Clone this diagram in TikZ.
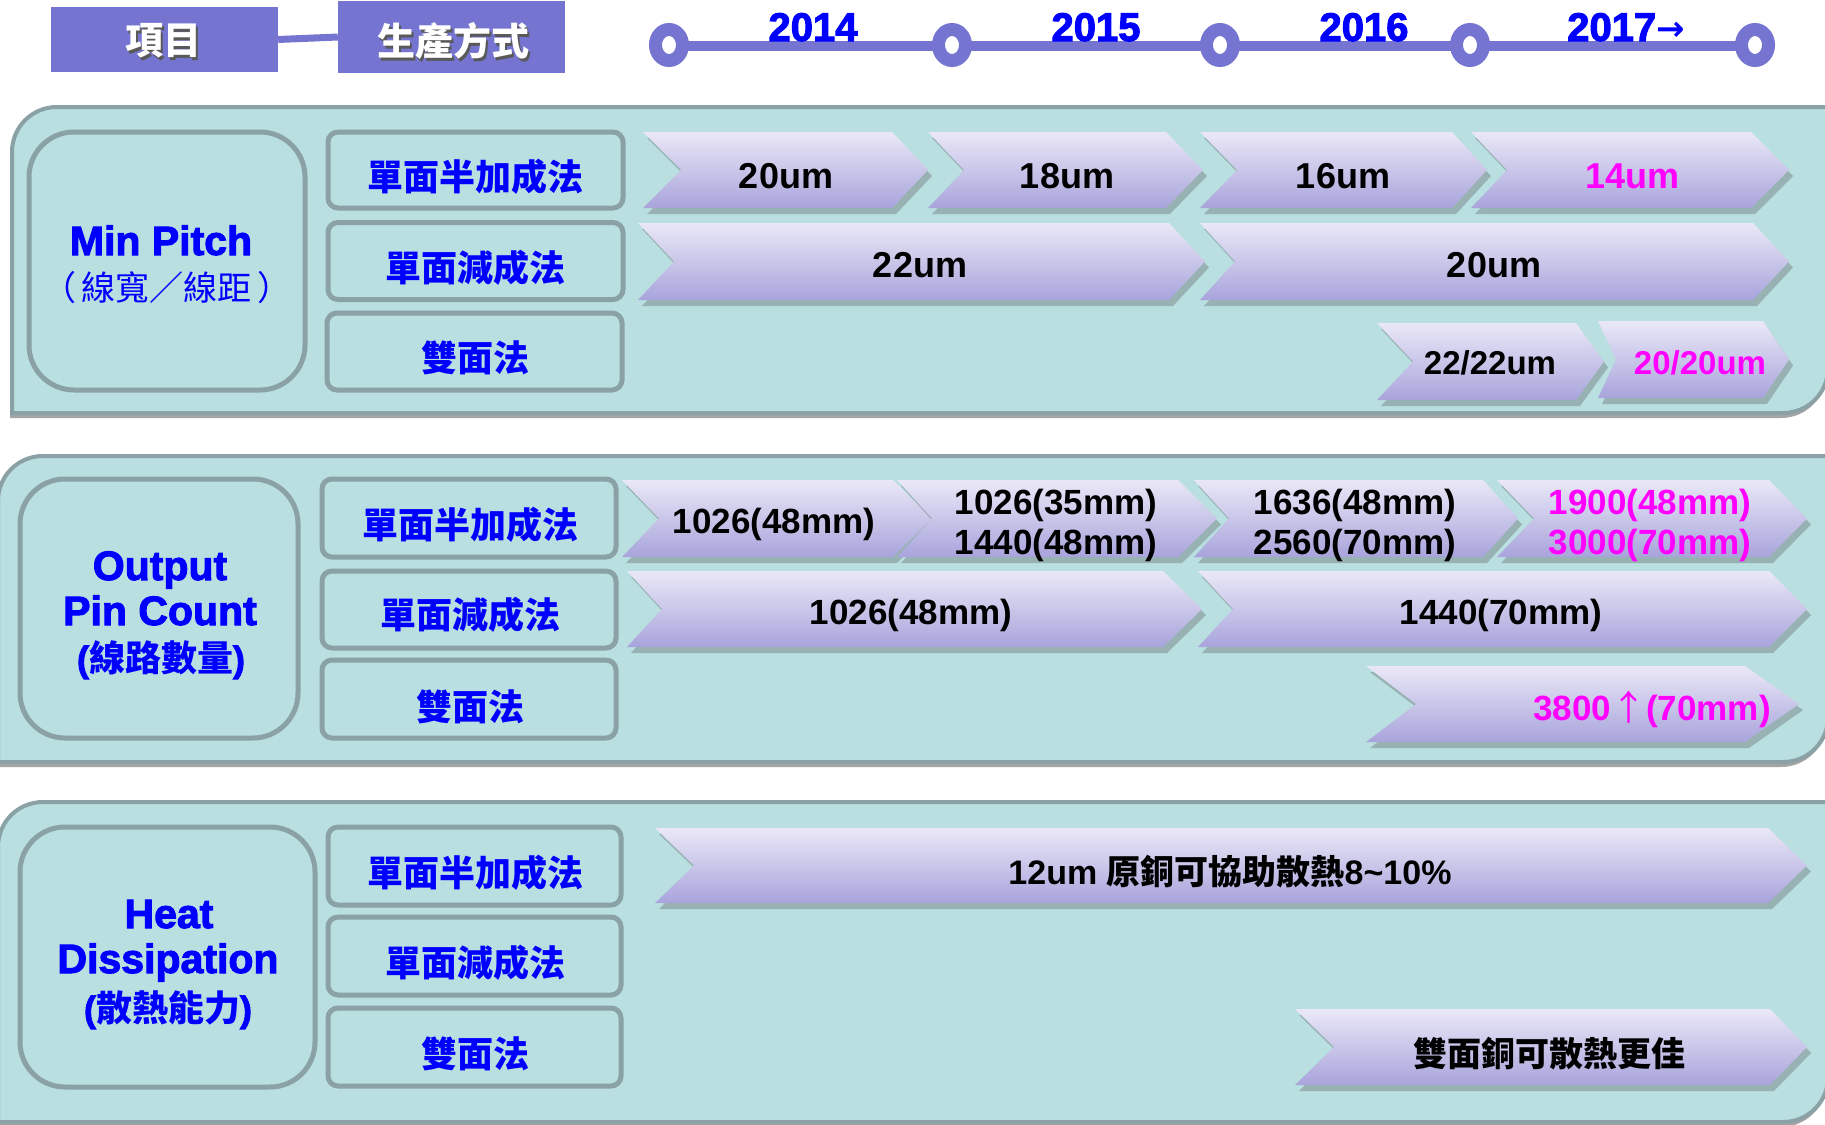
\documentclass[tikz,border=0pt]{standalone}
\usepackage{fontspec}
\setmainfont{Liberation Sans}
\newfontfamily\cjk{Noto Sans CJK TC}
\newfontfamily\heavy{Liberation Sans}[UprightFont={* Bold}, FakeBold=2.5]
\newfontfamily\dvs{DejaVu Sans}
\usetikzlibrary{shadows,shapes.geometric}
\definecolor{hdrc}{RGB}{117,116,208}
\definecolor{pfill}{RGB}{185,223,224}
\definecolor{pbord}{RGB}{138,161,165}
\definecolor{chtop}{RGB}{234,232,247}
\definecolor{chbot}{RGB}{168,164,220}
\definecolor{yrblue}{RGB}{0,0,255}
\definecolor{mag}{RGB}{255,0,255}
\newcommand\fs[1]{\fontsize{#1}{#1}\selectfont}
% panel: left, top, right, bottom
\newcommand\mypanel[4]{%
  \path[panelsty] (#1,#4) -- (#1,#2+45) .. controls (#1,#2+20) and (#1+20,#2) .. (#1+45,#2)
    -- (#3,#2) -- (#3,#4-45) .. controls (#3,#4-20) and (#3-20,#4) .. (#3-45,#4) -- cycle;}
% chevron: x0, notch depth, x tip, tip depth, ytop, ybot
\newcommand\mychev[6]{%
  \path[chevsty] (#1,#5) -- (#3-#4,#5) -- (#3,{(#5+#6)/2}) -- (#3-#4,#6) -- (#1,#6)
    -- (#1+#2,{(#5+#6)/2}) -- cycle;}
\begin{document}
\begin{tikzpicture}[x=1pt,y=-1pt,
  panelsty/.style={fill=pfill, draw=pbord, line width=4pt,
    drop shadow={shadow xshift=-2pt, shadow yshift=-5pt, opacity=0.5, fill=black!70}},
  chevsty/.style={top color=chtop, bottom color=chbot, draw=none,
    drop shadow={shadow xshift=4pt, shadow yshift=-6pt, opacity=0.3, fill=black!70}},
  lboxsty/.style={draw=pbord, line width=5pt, rounded corners=45pt, inner sep=0pt},
  mboxsty/.style={draw=pbord, line width=5pt, rounded corners=10pt, inner sep=0pt},
  mtxt/.style={font=\cjk\bfseries\fs{36}, text=yrblue, inner sep=0pt},
  ltxt/.style={font=\heavy\fs{41}, text=yrblue, inner sep=0pt, anchor=base},
  ct/.style={font=\fs{35}\bfseries, text=black, inner sep=0pt},
  cu/.style={font=\fs{36}\bfseries, text=black, inner sep=0pt},
  hbox/.style={fill=hdrc, draw=none, inner sep=0pt},
  htxt/.style={font=\cjk\bfseries\fs{38}, inner sep=0pt},
  yr/.style={font=\heavy\fs{40}, text=yrblue, inner sep=0pt, anchor=base},
  tlc/.style={ellipse, draw=hdrc, line width=13pt, fill=white, minimum width=27pt, minimum height=31pt, inner sep=0pt}
]
\fill[white] (0,0) rectangle (1825,1124);
\useasboundingbox (0,0) rectangle (1825,1124);

% ---------- header ----------
\node[hbox, minimum width=227pt, minimum height=65pt] (h1) at (164.5,39.5) {};
\node[hbox, minimum width=227pt, minimum height=72pt] (h2) at (451.5,37) {};
\draw[hdrc, line width=7pt] (h1.east) -- (h2.west);
\node[htxt, text=black!65] (h1s) at (165.5,43.5) {項目};
\node[htxt, text=white] (h1t) at (163,41) {項目};
\node[htxt, text=black!65] (h2s) at (455.5,43.5) {生產方式};
\node[htxt, text=white] (h2t) at (453,41) {生產方式};

% timeline
\coordinate (tA) at (669,46);
\coordinate (tE) at (1755,46);
\draw[hdrc, line width=10pt] (tA) -- (tE);
\node[tlc] (c1) at (669,45) {};
\node[tlc] (c2) at (952,45) {};
\node[tlc] (c3) at (1220,45) {};
\node[tlc] (c4) at (1470,45) {};
\node[tlc] (c5) at (1755,45) {};
\node[yr] (y1) at (813,41) {2014};
\node[yr] (y2) at (1096,41) {2015};
\node[yr] (y3) at (1364,41) {2016};
\node[yr] (y4) at (1626,41) {2017{\dvs\bfseries\fs{34}→}};

% ---------- panels ----------
\mypanel{12}{107}{1828}{413}
\mypanel{-2}{456}{1828}{762}
\mypanel{-2}{802}{1828}{1122}

% label boxes
\node[lboxsty, minimum width=276pt, minimum height=258pt] (L1) at (167,261) {};
\node[lboxsty, minimum width=278pt, minimum height=259pt] (L2) at (159,608.5) {};
\node[lboxsty, minimum width=295pt, minimum height=260pt] (L3) at (167.5,957) {};

% method boxes
\node[mboxsty, minimum width=295pt, minimum height=76pt] (M11) at (475.5,170) {};
\node[mboxsty, minimum width=295pt, minimum height=77pt] (M12) at (475.5,261) {};
\node[mboxsty, minimum width=295pt, minimum height=77pt] (M13) at (474.5,351.5) {};
\node[mboxsty, minimum width=294pt, minimum height=78pt] (M21) at (469,518) {};
\node[mboxsty, minimum width=294pt, minimum height=77pt] (M22) at (469,609.5) {};
\node[mboxsty, minimum width=294pt, minimum height=78pt] (M23) at (469,699) {};
\node[mboxsty, minimum width=293pt, minimum height=78pt] (M31) at (474.5,866) {};
\node[mboxsty, minimum width=293pt, minimum height=78pt] (M32) at (474.5,956) {};
\node[mboxsty, minimum width=293pt, minimum height=78pt] (M33) at (474.5,1047) {};

% method texts
\node[mtxt] (m11) at (475,177) {單面半加成法};
\node[mtxt] (m12) at (475,268) {單面減成法};
\node[mtxt] (m13) at (475,358) {雙面法};
\node[mtxt] (m21) at (470,525) {單面半加成法};
\node[mtxt] (m22) at (470,615) {單面減成法};
\node[mtxt] (m23) at (470,707) {雙面法};
\node[mtxt] (m31) at (475,873) {單面半加成法};
\node[mtxt] (m32) at (475,963) {單面減成法};
\node[mtxt] (m33) at (475,1054) {雙面法};

% label texts
\node[ltxt] (l1a) at (161,255) {Min Pitch};
\node[font=\cjk\fs{34}, text=yrblue, inner sep=0pt] (l1b) at (167,288) {（\hspace{6pt}線寬／線距\hspace{6pt}）};
\node[ltxt] (l2a) at (160,580) {Output};
\node[ltxt] (l2b) at (160,625) {Pin Count};
\node[font=\heavy\fs{36}, text=yrblue, inner sep=0pt] (l2c) at (161,660) {({\cjk\bfseries 線路數量})};
\node[ltxt] (l3a) at (169,928) {Heat};
\node[ltxt] (l3b) at (168,973) {Dissipation};
\node[font=\heavy\fs{36}, text=yrblue, inner sep=0pt] (l3c) at (168,1010) {({\cjk\bfseries 散熱能力})};

% ---------- chevrons ----------
% panel 1
\mychev{643}{38}{928}{36}{132}{208}
\mychev{928}{36}{1203}{37}{132}{208}
\mychev{1200}{37}{1487}{35}{132}{208}
\mychev{1471}{36}{1789}{38}{132}{208}
\mychev{638}{36}{1205}{36}{223}{300}
\mychev{1200}{35}{1789}{36}{223}{300}
\mychev{1377}{36}{1604}{28}{323}{400}
\mychev{1598}{18}{1789}{26}{321}{398}
% panel 2
\mychev{622}{37}{932}{39}{480}{557}
\mychev{897}{35}{1217}{39}{480}{557}
\mychev{1194}{35}{1518}{35}{480}{557}
\mychev{1497}{37}{1807}{38}{480}{557}
\mychev{627}{35}{1202}{39}{571}{647}
\mychev{1198}{35}{1807}{38}{571}{647}
\mychev{1366}{50}{1799}{54}{666}{742}
% panel 3
\mychev{655}{39}{1807}{39}{828}{903}
\mychev{1295}{39}{1807}{37}{1009}{1085}

% chevron texts panel 1
\node[cu] (a1) at (786,176) {20um};
\node[cu] (a2) at (1067,176) {18um};
\node[cu] (a3) at (1343,176) {16um};
\node[cu, text=mag] (a4) at (1632,176) {14um};
\node[cu] (b1) at (920,265) {22um};
\node[cu] (b2) at (1494,265) {20um};
\node[ct, font=\fs{33}\bfseries] (d1) at (1490,363) {22/22um};
\node[ct, font=\fs{33}\bfseries, text=mag] (d2) at (1700,363) {20/20um};
% panel 2
\node[ct] (e1) at (774,524) {1026(48mm)};
\node[ct] (e2a) at (1056,505) {1026(35mm)};
\node[ct] (e2b) at (1056,545) {1440(48mm)};
\node[ct] (e3a) at (1355,505) {1636(48mm)};
\node[ct] (e3b) at (1355,545) {2560(70mm)};
\node[ct, text=mag] (e4a) at (1650,505) {1900(48mm)};
\node[ct, text=mag] (e4b) at (1650,545) {3000(70mm)};
\node[ct] (f1) at (911,615) {1026(48mm)};
\node[ct] (f2) at (1501,615) {1440(70mm)};
\node[ct, text=mag] (g1) at (1652,709) {3800{\cjk\mdseries ↑}(70mm)};
% panel 3
\node[ct, font=\fs{34}\bfseries] (k1) at (1230,872) {12um {\cjk 原銅可協助散熱}8\textasciitilde10\%};
\node[ct, font=\cjk\bfseries\fs{34}] (k3) at (1549,1054) {雙面銅可散熱更佳};
\end{tikzpicture}
\end{document}
